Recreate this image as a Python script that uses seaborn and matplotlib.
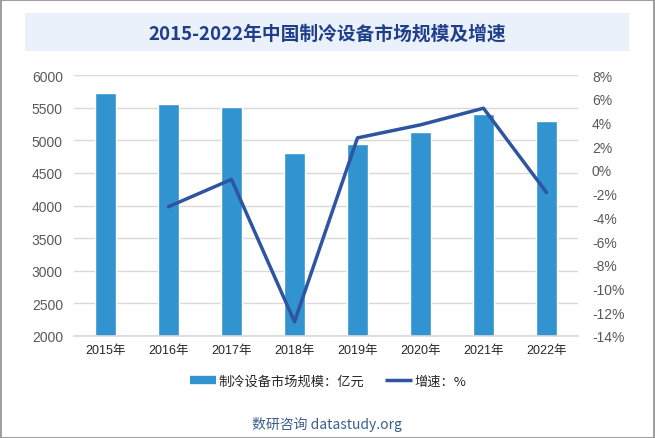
import matplotlib
matplotlib.use("Agg")
import matplotlib.pyplot as plt
from matplotlib.lines import Line2D
from matplotlib.patches import Rectangle
from matplotlib.ticker import FuncFormatter
import seaborn as sns
import numpy as np
import pandas as pd

years = ["2015年", "2016年", "2017年", "2018年", "2019年", "2020年", "2021年", "2022年"]
market_size = [5720, 5560, 5510, 4805, 4945, 5130, 5405, 5295]
growth_years = ["2016年", "2017年", "2018年", "2019年", "2020年", "2021年", "2022年"]
growth = [-3.1, -0.8, -12.8, 2.7, 3.8, 5.2, -1.9]

title = "2015-2022年中国制冷设备市场规模及增速"
bar_label = "制冷设备市场规模：亿元"
line_label = "增速：%"
footer = "数研咨询 datastudy.org"

sns.set_theme(style="white")
plt.rcParams['font.family'] = ['Liberation Sans', 'Noto Sans CJK SC', 'DejaVu Sans']

BAR_C = "#3194D0"
LINE_C = "#2F54A1"

fig = plt.figure(figsize=(6.55, 4.39), dpi=100)
fig.patch.set_facecolor("white")
fig.add_artist(Rectangle((0.5/655, 0.5/439), 1 - 1.5/655, 1 - 1.5/439, transform=fig.transFigure,
                         fill=False, edgecolor="#8C8C8C", linewidth=1.2))
# title band
fig.add_artist(Rectangle((25/655, 1 - 52/439), (629 - 25)/655, 38/439, transform=fig.transFigure,
                         facecolor="#EAF1FB", edgecolor="none"))
fig.text(327/655, 1 - 34/439, title, ha="center", va="center", fontsize=13.5,
         color="#1F3F8A", fontweight="bold", family=['Noto Sans CJK SC', 'DejaVu Sans'])

ax = fig.add_axes([74/655, 1 - 337/439, (578 - 74)/655, (337 - 76)/439])
df = pd.DataFrame({"year": years, "size": market_size})
sns.barplot(data=df, x="year", y="size", color=BAR_C, saturation=1, width=0.32, ax=ax, zorder=2)
ax.set_ylim(2000, 6000)
ax.set_yticks(np.arange(2000, 6001, 500))
ax.set_xlim(-0.5, len(years) - 0.5)
ax.grid(axis="y", color="#D9D9D9", linewidth=1, zorder=0)
ax.set_axisbelow(True)
for s in ax.spines.values():
    s.set_visible(False)
ax.spines["bottom"].set_visible(True)
ax.spines["bottom"].set_color("#D9D9D9")
ax.set_xlabel("")
ax.set_ylabel("")
ax.tick_params(axis="y", length=0, labelsize=10, labelcolor="#595959", pad=8)
ax.tick_params(axis="x", length=0, labelsize=9, labelcolor="#262626", pad=6)
for lbl in ax.get_xticklabels():
    lbl.set_family(['Liberation Sans', 'Noto Sans CJK SC'])

ax2 = ax.twinx()
pos = {y: i for i, y in enumerate(years)}
dfl = pd.DataFrame({"x": [pos[y] for y in growth_years], "g": growth})
sns.lineplot(data=dfl, x="x", y="g", color=LINE_C, linewidth=2.5, ax=ax2)
ax2.set_ylim(-14, 8)
ax2.set_yticks(np.arange(-14, 9, 2))
ax2.yaxis.set_major_formatter(FuncFormatter(lambda v, p: f"{int(v)}%"))
ax2.tick_params(axis="y", length=0, labelsize=10, labelcolor="#595959", pad=10)
for s in ax2.spines.values():
    s.set_visible(False)
ax2.set_xlabel("")
ax2.set_ylabel("")
ax2.set_xlim(-0.5, len(years) - 0.5)

handles = [Line2D([], [], color=BAR_C, linewidth=6, solid_capstyle="butt"),
           Line2D([], [], color=LINE_C, linewidth=2.5, solid_capstyle="butt")]
fig.legend(handles, [bar_label, line_label], loc="center", bbox_to_anchor=(328/655, 1 - 382/439),
           ncol=2, frameon=False, handlelength=2.0, columnspacing=1.6, handletextpad=0.2,
           prop={"family": ['Noto Sans CJK SC', 'DejaVu Sans'], "size": 9.5})

fig.text(327/655, 1 - 424/439, footer, ha="center", va="center", fontsize=10,
         color="#3A5F8F", family=['Noto Sans CJK SC', 'DejaVu Sans'])

fig.savefig("out.png", dpi=100)
